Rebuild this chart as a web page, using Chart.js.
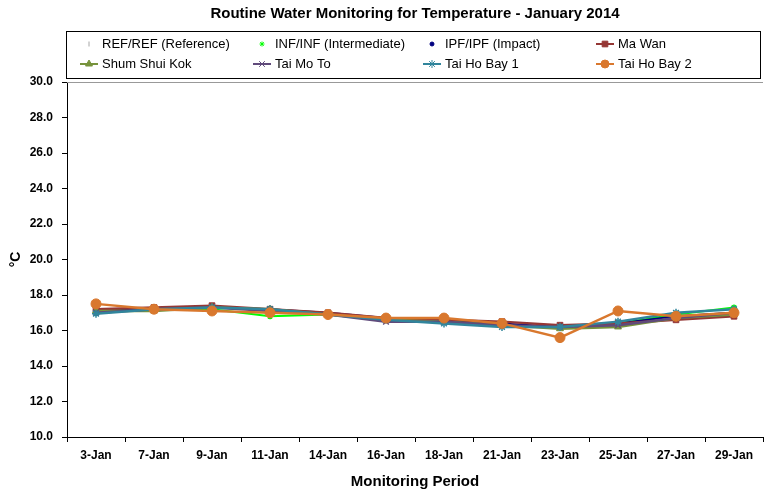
<!DOCTYPE html>
<html><head><meta charset="utf-8">
<script src="https://cdn.jsdelivr.net/npm/chart.js@4/dist/chart.umd.min.js"></script>
<style>html,body{margin:0;padding:0;background:#fff}#wrap{width:769px;height:491px}</style>
</head><body><div id="wrap"><canvas id="c" width="769" height="491"></canvas></div>
<script>
const categories = ['3-Jan','7-Jan','9-Jan','11-Jan','14-Jan','16-Jan','18-Jan','21-Jan','23-Jan','25-Jan','27-Jan','29-Jan'];
const seriesNames = ['REF/REF (Reference)','INF/INF (Intermediate)','IPF/IPF (Impact)','Ma Wan','Shum Shui Kok','Tai Mo To','Tai Ho Bay 1','Tai Ho Bay 2'];
const refRef   = [17.1,17.2,17.3,17.2,16.9,16.6,16.5,16.3,16.2,16.4,16.8,17.0];
const infInf   = [17.1,17.2,17.2,16.8,16.9,16.6,16.6,16.3,16.2,16.4,16.9,17.3];
const ipfIpf   = [17.1,17.2,17.3,17.2,17.0,16.7,16.6,16.4,16.2,16.4,16.8,17.0];
const maWan    = [17.2,17.3,17.4,17.2,17.0,16.7,16.6,16.5,16.3,16.4,16.6,16.8];
const shumShuiKok = [17.1,17.1,17.3,17.2,16.9,16.6,16.5,16.3,16.1,16.2,16.7,16.9];
const taiMoTo  = [17.0,17.2,17.3,17.1,16.9,16.5,16.5,16.3,16.2,16.3,16.7,17.0];
const taiHoBay1 = [16.95,17.2,17.3,17.2,16.9,16.6,16.4,16.2,16.2,16.5,17.0,17.2];
const taiHoBay2 = [17.5,17.2,17.1,17.0,16.9,16.7,16.7,16.4,15.6,17.1,16.8,17.0];
const yTickValues = [10,12,14,16,18,20,22,24,26,28,30];

const seriesData = [refRef,infInf,ipfIpf,maWan,shumShuiKok,taiMoTo,taiHoBay1,taiHoBay2];
const colors = ['#A6A6A6','#00FF00','#000080','#953735','#77933C','#604A7B','#31859C','#D9782E'];
const styles = ['line','star','circle','rect','triangle','crossRot','star','circle'];
const radii = [3,3,2.5,4,4,4,4,5];
const legendLine = [false,false,false,true,true,true,true,true];
const rotations = [90,0,0,0,0,0,0,0];

const datasets = seriesNames.map((n,i)=>({
  label:n, data:seriesData[i], borderColor:colors[i], backgroundColor:colors[i],
  borderWidth: i<3 ? 2 : 2.5, pointStyle:styles[i], pointRadius:radii[i], pointRotation:rotations[i],
  pointBorderColor:colors[i], pointBackgroundColor:colors[i], pointBorderWidth: (styles[i]==='star'||styles[i]==='crossRot'||styles[i]==='line')?1.5:1,
  tension:0, order: 7-i, fill:false
}));

const FONT = '"Liberation Sans", Arial, sans-serif';

const customLegend = {
  id:'customLegend',
  afterDraw(chart){
    const ctx = chart.ctx;
    ctx.save();
    ctx.fillStyle='#000';
    ctx.font = 'bold 15px '+FONT;
    ctx.textAlign='center'; ctx.textBaseline='middle';
    ctx.fillText('Routine Water Monitoring for Temperature - January 2014', 415, 14);
    ctx.strokeStyle='#000'; ctx.lineWidth=1;
    ctx.strokeRect(66.5,31.5,694,47);
    ctx.font = '13px '+FONT;
    ctx.textAlign='left';
    const colX = [80, 253, 423, 596];
    const rowY = [44, 64];
    chart.data.datasets.forEach((ds,i)=>{
      const col = i%4, row = Math.floor(i/4);
      const x0 = colX[col], y = rowY[row];
      const mx = x0+9;
      if (legendLine[i]) {
        ctx.strokeStyle = colors[i]; ctx.lineWidth = 2;
        ctx.beginPath(); ctx.moveTo(x0,y); ctx.lineTo(x0+18,y); ctx.stroke();
      }
      ctx.strokeStyle = colors[i]; ctx.fillStyle = colors[i]; ctx.lineWidth = 1;
      Chart.helpers.drawPoint(ctx,{pointStyle:styles[i], radius: legendLine[i]? Math.min(radii[i],4): radii[i]-0.5, rotation:rotations[i], borderWidth:1}, mx, y);
      ctx.fillStyle='#000';
      ctx.fillText(ds.label, x0+22, y+0.5);
    });
    const a = chart.chartArea;
    ctx.strokeStyle='#999'; ctx.lineWidth=1;
    ctx.beginPath(); ctx.moveTo(a.left, a.top+0.5); ctx.lineTo(a.right, a.top+0.5); ctx.stroke();
    ctx.restore();
  }
};

new Chart(document.getElementById('c'),{
  type:'line',
  data:{labels:categories, datasets},
  options:{
    responsive:false, animation:false, devicePixelRatio:1,
    layout:{padding:{top:82, left:8, right:6, bottom:0}},
    plugins:{legend:{display:false}, title:{display:false}, tooltip:{enabled:false}},
    scales:{
      x:{
        offset:true,
        grid:{display:true, drawOnChartArea:false, drawTicks:true, tickLength:5, color:'#000', offset:true},
        border:{display:true,color:'#000',width:1},
        ticks:{color:'#000', font:{family:FONT, size:12, weight:'bold'}, padding:6, maxRotation:0, autoSkip:false},
        title:{display:true, text:'Monitoring Period', color:'#000', font:{family:FONT, size:15, weight:'bold'}, padding:{top:4,bottom:0}},
        afterFit(s){ s.height = 491-437; }
      },
      y:{
        min:10, max:30,
        afterBuildTicks(s){ s.ticks = yTickValues.map(v=>({value:v})); },
        grid:{display:true, drawOnChartArea:false, drawTicks:true, tickLength:5, color:'#000'},
        border:{display:true,color:'#000',width:1},
        ticks:{color:'#000', font:{family:FONT, size:12, weight:'bold'}, padding:9, callback:(v)=>Number(v).toFixed(1)},
        title:{display:true, text:'°C', color:'#000', font:{family:FONT, size:14, weight:'bold'}, padding:{top:0,bottom:4}},
        afterFit(s){ s.width = 59; }
      }
    }
  },
  plugins:[customLegend]
});
</script>
</body></html>
